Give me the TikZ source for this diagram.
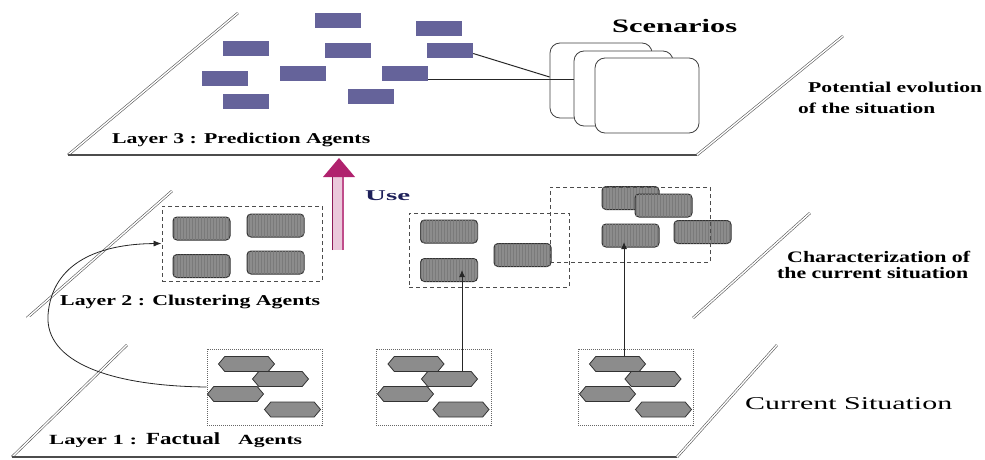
\documentclass[tikz,border=0pt]{standalone}
\usepackage{fontspec}
\setmainfont{Liberation Serif}
\usetikzlibrary{shapes.symbols,arrows.meta,patterns,calc}
\definecolor{agblue}{RGB}{101,99,154}
\definecolor{aggray}{RGB}{140,140,140}
\definecolor{usemag}{RGB}{176,34,110}
\definecolor{usenavy}{RGB}{30,32,90}
\newcommand\fitw[2]{\resizebox{#1}{\height}{#2}}
\tikzset{
  pagent/.style={draw=none,fill=agblue,minimum width=46pt,minimum height=15pt,inner sep=0pt},
  cagent/.style={draw=black!80,line width=1pt,fill=aggray,rounded corners=4pt,minimum width=57pt,minimum height=23pt,inner sep=0pt,
     postaction={pattern=vertical lines,pattern color=black!52}},
  fagent/.style={shape=signal,signal to=east and west,signal pointer angle=100,draw=black!80,line width=0.8pt,fill=aggray,minimum width=56pt,minimum height=15pt,inner sep=0pt},
  scen/.style={draw=black!75,line width=0.8pt,fill=white,rounded corners=10pt,inner sep=0pt},
  clbox/.style={draw=black!70,dashed,dash pattern=on 4pt off 3pt,line width=0.9pt,inner sep=0pt},
  fbox/.style={draw=black!60,densely dotted,line width=1pt,inner sep=0pt},
  edgeln/.style={draw=black!65,double=white,double distance=1.4pt,line width=0.6pt},
  baseln/.style={draw=black!70,line width=1.6pt},
  lbl/.style={inner sep=0pt,anchor=base west,font=\bfseries},
  conn/.style={draw=black!85,line width=1pt},
}
\begin{document}
\begin{tikzpicture}[x=1pt,y=-1pt]
\useasboundingbox (0,0) rectangle (985,460);
% ---------- layer planes ----------
\coordinate (l3a) at (68,155); \coordinate (l3b) at (238,13);
\coordinate (l3c) at (697,155); \coordinate (l3d) at (843,36);
\coordinate (l2a) at (27,318); \coordinate (l2b) at (172,191);
\coordinate (l2c) at (693,318); \coordinate (l2d) at (810,213);
\coordinate (l1a) at (12,457); \coordinate (l1b) at (127,345);
\coordinate (l1c) at (677,457); \coordinate (l1d) at (777,345);
\draw[edgeln] (l3a) -- (l3b);
\draw[baseln] (l3a) -- (l3c);
\draw[edgeln] (l3c) -- (l3d);
\draw[edgeln] (l2a) -- (l2b);
\draw[edgeln] (l2a) -- (l2c);
\draw[edgeln] (l2c) -- (l2d);
\draw[edgeln] (l1a) -- (l1b);
\draw[baseln,line width=2pt] (l1a) -- (l1c);
\draw[edgeln] (l1c) -- (l1d);
% ---------- layer 3 ----------
\node[pagent] (p1) at (337.5,20.5) {};
\node[pagent] (p2) at (439,28.5) {};
\node[pagent] (p3) at (246,48.5) {};
\node[pagent] (p4) at (348,50.5) {};
\node[pagent] (p5) at (450,50.5) {};
\node[pagent] (p6) at (225,78.5) {};
\node[pagent] (p7) at (302.5,73.5) {};
\node[pagent] (p8) at (405,73.5) {};
\node[pagent] (p9) at (246,101) {};
\node[pagent] (p10) at (371,96.5) {};
\node[scen,minimum width=102pt,minimum height=75pt] (s1) at (601,80.5) {};
\draw[conn] ([yshift=-3pt]p5.east) -- ([yshift=3.5pt]s1.west);
\draw[conn] ([yshift=-5.5pt]p8.east) -- ([yshift=-5.5pt]p8.east -| 574,0) coordinate (s2in);
\node[scen,minimum width=99pt,minimum height=75pt] (s2) at (623.5,88.5) {};
\node[scen,minimum width=104pt,minimum height=75pt] (s3) at (647,95.5) {};
\node[lbl,font=\fontsize{19}{20}\selectfont\bfseries] (tscen) at (612,33) {\fitw{125pt}{Scenarios}};
\node[lbl,font=\fontsize{15}{16}\selectfont\bfseries] (tpot1) at (808,92) {\fitw{174pt}{Potential evolution}};
\node[lbl,font=\fontsize{15}{16}\selectfont\bfseries] (tpot2) at (798,113) {\fitw{137pt}{of the situation}};
\node[lbl,font=\fontsize{15}{16}\selectfont\bfseries] (tl3) at (112,143) {\fitw{258pt}{Layer 3 : Prediction Agents}};
% ---------- use arrow ----------
\coordinate (ubot) at (338,250);
\coordinate (utop) at (339,158);
\fill[usemag!25] (332.5,177) rectangle (343,250);
\draw[usemag!80!black,line width=1.3pt] (332.5,250) -- (332.5,177);
\draw[usemag!80,line width=1.3pt] (343,250) -- (343,177);
\fill[usemag] (323,177) -- (utop) -- (355,177) -- cycle;
\node[lbl,text=usenavy,font=\fontsize{15}{16}\selectfont\bfseries] (tuse) at (365,200) {\fitw{45pt}{Use}};
% ---------- layer 2 ----------
\node[cagent] (c11) at (201.5,228.5) {};
\node[cagent] (c12) at (275.5,225.5) {};
\node[cagent] (c13) at (201.5,266) {};
\node[cagent] (c14) at (275.5,262.5) {};
\node[cagent] (c21) at (449,231.5) {};
\node[cagent] (c22) at (449,270) {};
\node[cagent] (c23) at (522.5,255) {};
\node[cagent] (c31) at (630.5,198) {};
\node[cagent] (c32) at (663.5,205.5) {};
\node[cagent] (c33) at (630.5,235.5) {};
\node[cagent] (c34) at (702.5,232) {};
\node[clbox,minimum width=160pt,minimum height=75pt] (d1) at (242,243.5) {};
\node[clbox,minimum width=160pt,minimum height=74pt] (d2) at (489,250) {};
\node[clbox,minimum width=160pt,minimum height=75pt] (d3) at (630,224.5) {};
\node[lbl,font=\fontsize{15}{16}\selectfont\bfseries] (tl2) at (60,305) {\fitw{260pt}{Layer 2 : Clustering Agents}};
\node[lbl,font=\fontsize{16}{17}\selectfont\bfseries] (tch1) at (787,262) {\fitw{183pt}{Characterization of}};
\node[lbl,font=\fontsize{16}{17}\selectfont\bfseries] (tch2) at (777,278) {\fitw{191pt}{the current situation}};
% ---------- layer 1 ----------
\node[fbox,minimum width=115pt,minimum height=76pt] (fa) at (264.5,387) {};
\node[fbox,minimum width=115pt,minimum height=76pt] (fb) at (433.5,387) {};
\node[fbox,minimum width=115pt,minimum height=76pt] (fc) at (635.5,387) {};
\node[fagent] (ha1) at (246.5,364) {};
\node[fagent] (ha2) at (280.5,379) {};
\node[fagent] (ha3) at (235.5,394) {};
\node[fagent] (ha4) at (292.5,409.5) {};
\node[fagent] (hb1) at (416,364) {};
\node[fagent] (hb2) at (449.5,379) {};
\node[fagent] (hb3) at (405.5,394) {};
\node[fagent] (hb4) at (461,409.5) {};
\node[fagent] (hc1) at (617.5,364) {};
\node[fagent] (hc2) at (653,379) {};
\node[fagent] (hc3) at (607.5,394) {};
\node[fagent] (hc4) at (663.5,409.5) {};
\node[lbl,font=\fontsize{14}{15}\selectfont\bfseries] (tl1a) at (49,444) {\fitw{88pt}{Layer 1 :}};
\node[lbl,font=\fontsize{17}{18}\selectfont\bfseries] (tl1b) at (146,444) {\fitw{74pt}{Factual}};
\node[lbl,font=\fontsize{14}{15}\selectfont\bfseries] (tl1c) at (238,444) {\fitw{64pt}{Agents}};
\node[lbl,font=\fontsize{18}{19}\selectfont] (tcur) at (745,409) {\fitw{207pt}{Current Situation}};
% ---------- connectors between layers ----------
\draw[conn,-{Latex[length=7pt,width=6pt]}] ([xshift=12.5pt]hb2.north) -- ([xshift=12.5pt]hb2.north |- c22.center);
\draw[conn,-{Latex[length=7pt,width=6pt]}] ([xshift=6.5pt]hc1.north) -- ([xshift=6.5pt,yshift=-6.5pt]hc1.north |- c33.center);
\draw[black!85,line width=0.8pt,-{Latex[length=8pt,width=6pt]}] (fa.west) .. controls (110,386) and (45,362) .. (48,315) .. controls (52,262) and (100,244) .. (d1.west);
\end{tikzpicture}
\end{document}
